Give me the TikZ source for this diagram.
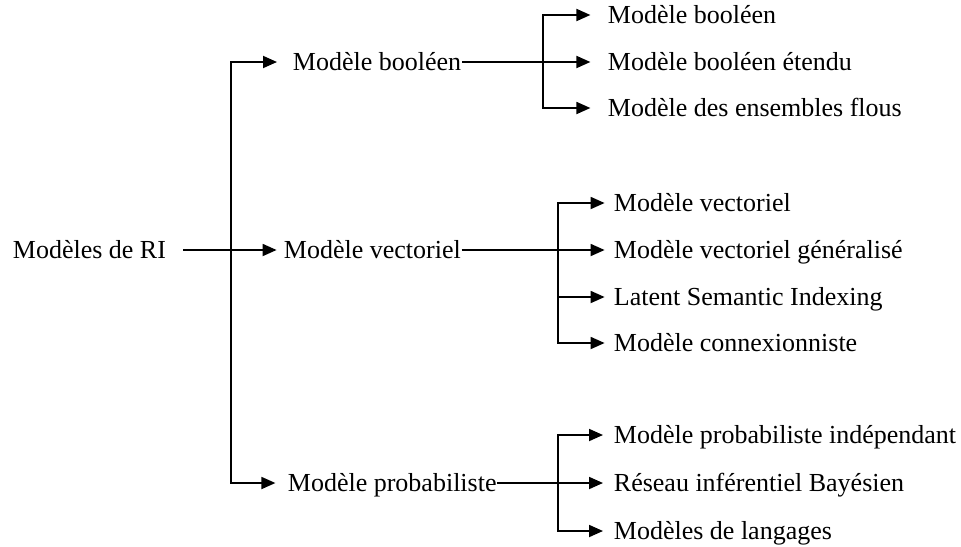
\documentclass[tikz,border=0pt]{standalone}
\usepackage{fontspec}
\setmainfont{Liberation Serif}
\usetikzlibrary{arrows.meta}

\begin{document}
\begin{tikzpicture}[
            x = 0.5pt, y = -0.5pt, % one unit per pixel, y downwards
            every node/.style = {anchor = west, inner sep = 0pt,
                text height = 10pt, text depth = 1.5pt,
                font = \fontsize{13}{15}\selectfont},
            line width = 0.9pt, % line style
            link/.style = {-{Triangle[length = 7pt, width = 6pt]}},
            gap/.style = {shorten > = #1} % don't touch text with arrow head
        ]
        \useasboundingbox (0,0) rectangle (961,546);

        \node (ri) at (12,250) {Modèles de RI};
        \node (bool) at (292,62) {Modèle booléen};
        \node (vect) at (283,250) {Modèle vectoriel};
        \node (prob) at (287,483) {Modèle probabiliste};

        \node (b1) at (607,15) {Modèle booléen};
        \node (b2) at (607,62) {Modèle booléen étendu};
        \node (b3) at (607,108) {Modèle des ensembles flous};

        \node (v1) at (613,203) {Modèle vectoriel};
        \node (v2) at (613,250) {Modèle vectoriel généralisé};
        \node (v3) at (613,297) {Latent Semantic Indexing};
        \node (v4) at (613,343) {Modèle connexionniste};

        \node (p1) at (613,435) {Modèle probabiliste indépendant};
        \node (p2) at (613,483) {Réseau inférentiel Bayésien};
        \node (p3) at (613,531) {Modèles de langages};

        \coordinate (trunk) at (231,250);
        \coordinate (jbool) at (543,62);
        \coordinate (jvect) at (558,250);
        \coordinate (jprob) at (558,483);

        \draw[shorten < = 8.3pt] (ri) -- (trunk);
        \draw[link, gap = 7.5pt] (trunk) |- (bool);
        \draw[link, gap = 3.2pt] (trunk) -- (vect);
        \draw[link, gap = 5.8pt] (trunk) |- (prob);

        \draw (bool) -- (jbool);
        \draw[link, gap = 8.3pt] (jbool) |- (b1);
        \draw[link, gap = 8.3pt] (jbool) -- (b2);
        \draw[link, gap = 8.3pt] (jbool) |- (b3);

        \draw (vect) -- (jvect);
        \draw[link, gap = 4.2pt] (jvect) |- (v1);
        \draw[link, gap = 4.2pt] (jvect) -- (v2);
        \draw[link, gap = 4.2pt] (jvect) |- (v3);
        \draw[link, gap = 4.2pt] (jvect) |- (v4);

        \draw (prob) -- (jprob);
        \draw[link, gap = 5pt] (jprob) |- (p1);
        \draw[link, gap = 5pt] (jprob) -- (p2);
        \draw[link, gap = 5pt] (jprob) |- (p3);
\end{tikzpicture}
\end{document}
